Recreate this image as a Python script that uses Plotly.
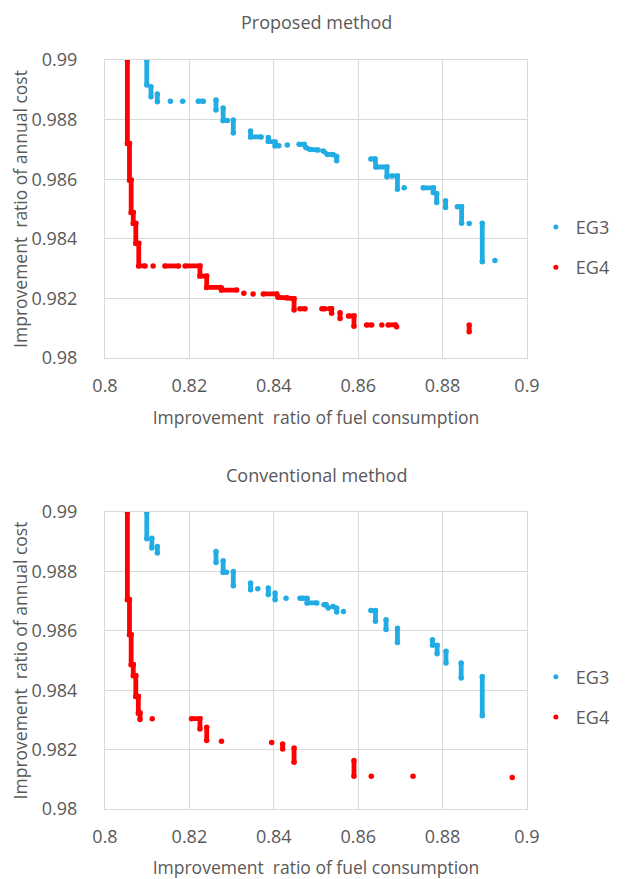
import plotly.graph_objects as go
from plotly.subplots import make_subplots

# ---- data (None separates point runs) ----
eg3_prop_x = [0.8099, 0.8099, None, 0.8109, 0.8109, None, 0.8124, 0.8124, None,
              0.8155, None, 0.8184, None, 0.8221, 0.8233, None, 0.8263, 0.8263, None,
              0.8280, 0.8280, 0.8290, None, 0.8304, 0.8304, None,
              0.8345, 0.8345, 0.8370, None,
              0.8387, 0.8387, 0.8403, 0.8403, 0.8412, None, 0.8432, None,
              0.8460, 0.8472, 0.8476, 0.8486, 0.8505, None,
              0.8517, 0.8527, 0.8540, 0.8549, 0.8549, None,
              0.8630, 0.8640, 0.8642, 0.8668, 0.8668, None,
              0.8679, 0.8693, 0.8693, None, 0.8709, None,
              0.8754, 0.8778, 0.8778, 0.8786, 0.8786, None,
              0.8807, 0.8807, None, 0.8835, 0.8845, 0.8845, None,
              0.8863, None, 0.8894, 0.8894, None, 0.8924]
eg3_prop_y = [0.99000, 0.98916, None, 0.98910, 0.98877, None, 0.98886, 0.98860, None,
              0.98862, None, 0.98862, None, 0.98862, 0.98862, None, 0.98866, 0.98832, None,
              0.98839, 0.98797, 0.98797, None, 0.98799, 0.98755, None,
              0.98762, 0.98742, 0.98742, None,
              0.98740, 0.98727, 0.98725, 0.98712, 0.98712, None, 0.98715, None,
              0.98717, 0.98717, 0.98706, 0.98700, 0.98698, None,
              0.98695, 0.98683, 0.98683, 0.98676, 0.98662, None,
              0.98668, 0.98668, 0.98641, 0.98641, 0.98608, None,
              0.98611, 0.98611, 0.98566, None, 0.98571, None,
              0.98571, 0.98571, 0.98555, 0.98552, 0.98522, None,
              0.98528, 0.98505, None, 0.98508, 0.98508, 0.98452, None,
              0.98451, None, 0.98452, 0.98323, None, 0.98327]

eg4_prop_x = [0.8053, 0.8053, 0.8058, 0.8058, 0.8062, 0.8062, 0.8067, 0.8067,
              0.8073, 0.8073, 0.8080, 0.8080, 0.8095, None,
              0.8114, None, 0.8142, 0.8174, None,
              0.8190, 0.8225, 0.8225, 0.8241, 0.8241, 0.8273, None,
              0.8276, 0.8276, 0.8312, None, 0.8329, None, 0.8351, None,
              0.8375, 0.8407, 0.8410, 0.8431, 0.8446, 0.8448, 0.8448, None,
              0.8462, 0.8474, None, 0.8514, 0.8521, None,
              0.8532, 0.8537, 0.8537, None, 0.8557, 0.8557, None,
              0.8577, 0.8590, 0.8590, None, 0.8620, 0.8632, None,
              0.8656, None, 0.8671, 0.8688, 0.8691, None, 0.8863, 0.8863]
eg4_prop_y = [0.99000, 0.98720, 0.98720, 0.98597, 0.98597, 0.98488, 0.98488, 0.98452,
              0.98452, 0.98385, 0.98385, 0.98309, 0.98309, None,
              0.98309, None, 0.98309, 0.98309, None,
              0.98309, 0.98309, 0.98275, 0.98275, 0.98237, 0.98237, None,
              0.98235, 0.98228, 0.98228, None, 0.98217, None, 0.98215, None,
              0.98215, 0.98215, 0.98204, 0.98202, 0.98199, 0.98199, 0.98161, None,
              0.98165, 0.98165, None, 0.98165, 0.98165, None,
              0.98165, 0.98165, 0.98150, None, 0.98152, 0.98133, None,
              0.98141, 0.98141, 0.98107, None, 0.98111, 0.98111, None,
              0.98111, None, 0.98111, 0.98111, 0.98105, None, 0.98111, 0.98088]

eg3_conv_x = [0.8099, 0.8099, None, 0.8111, 0.8111, None, 0.8124, 0.8124, None,
              0.8263, 0.8263, None, 0.8280, 0.8280, 0.8288, None, 0.8304, 0.8304, None,
              0.8345, 0.8345, None, 0.8362, None, 0.8387, 0.8387, None,
              0.8403, 0.8403, None, 0.8429, None, 0.8462, 0.8470, None,
              0.8479, 0.8479, 0.8502, None, 0.8519, 0.8524, 0.8529, None,
              0.8540, 0.8549, 0.8549, None, 0.8565, None,
              0.8630, 0.8641, 0.8641, None, 0.8666, 0.8666, None,
              0.8693, 0.8693, None, 0.8776, 0.8776, 0.8787, 0.8787, None,
              0.8808, 0.8808, None, 0.8844, 0.8844, None, 0.8894, 0.8894]
eg3_conv_y = [0.99000, 0.98910, None, 0.98912, 0.98879, None, 0.98884, 0.98862, None,
              0.98867, 0.98830, None, 0.98836, 0.98797, 0.98797, None, 0.98800, 0.98752, None,
              0.98761, 0.98738, None, 0.98742, None, 0.98744, 0.98722, None,
              0.98727, 0.98705, None, 0.98710, None, 0.98710, 0.98710, None,
              0.98710, 0.98694, 0.98694, None, 0.98688, 0.98688, 0.98677, None,
              0.98682, 0.98676, 0.98663, None, 0.98665, None,
              0.98668, 0.98668, 0.98632, None, 0.98637, 0.98604, None,
              0.98609, 0.98561, None, 0.98570, 0.98552, 0.98551, 0.98523, None,
              0.98531, 0.98492, None, 0.98492, 0.98441, None, 0.98446, 0.98314]

eg4_conv_x = [0.8053, 0.8053, 0.8058, 0.8058, 0.8062, 0.8062, 0.8067, 0.8067,
              0.8073, 0.8073, 0.8079, 0.8079, 0.8083, 0.8083, None,
              0.8112, None, 0.8205, 0.8225, 0.8225, None, 0.8241, 0.8241, None,
              0.8276, None, 0.8395, None, 0.8421, 0.8421, None, 0.8448, 0.8448, None,
              0.8590, 0.8590, None, 0.8631, None, 0.8730, None, 0.8965]
eg4_conv_y = [0.99000, 0.98705, 0.98705, 0.98587, 0.98587, 0.98486, 0.98486, 0.98449,
              0.98449, 0.98379, 0.98379, 0.98323, 0.98323, 0.98301, None,
              0.98304, None, 0.98304, 0.98304, 0.98269, None, 0.98275, 0.98231, None,
              0.98228, None, 0.98224, None, 0.98219, 0.98202, None, 0.98205, 0.98157, None,
              0.98163, 0.98110, None, 0.98110, None, 0.98110, None, 0.98106]

series_names = ["EG3", "EG4"]
panel_titles = ["Proposed method", "Conventional method"]
x_title = "Improvement  ratio of fuel consumption"
y_title = "Improvement  ratio of annual cost"
x_ticks = [0.8, 0.82, 0.84, 0.86, 0.88, 0.9]
y_ticks = [0.98, 0.982, 0.984, 0.986, 0.988, 0.99]

BLUE = "#21ACE4"
RED = "#FF0000"
GRAY_TXT = "#595959"
GRID = "#D9D9D9"
FONT = "Open Sans"

fig = make_subplots(rows=2, cols=1, vertical_spacing=0.2)

panels = [
    (1, [(eg3_prop_x, eg3_prop_y, BLUE), (eg4_prop_x, eg4_prop_y, RED)], "legend"),
    (2, [(eg3_conv_x, eg3_conv_y, BLUE), (eg4_conv_x, eg4_conv_y, RED)], "legend2"),
]
for row, data, leg in panels:
    for (xs, ys, col), name in zip(data, series_names):
        fig.add_trace(go.Scatter(x=xs, y=ys, mode="lines+markers",
                                 line=dict(color=col, width=4.8),
                                 marker=dict(color=col, size=5.5),
                                 connectgaps=False, showlegend=False,
                                 hoverinfo="skip"), row=row, col=1)
    for name, col in zip(series_names, [BLUE, RED]):
        fig.add_trace(go.Scatter(x=[None], y=[None], mode="markers", name=name,
                                 marker=dict(color=col, size=5),
                                 legend=leg, legendgroup=name + leg),
                      row=row, col=1)

axis_common = dict(showgrid=True, gridcolor=GRID, gridwidth=1,
                   showline=True, linecolor=GRID, linewidth=1, mirror=True,
                   zeroline=False, ticks="outside", tickcolor="rgba(0,0,0,0)",
                   automargin=False,
                   tickfont=dict(family=FONT, size=18, color=GRAY_TXT))
for r in (1, 2):
    fig.update_xaxes(range=[0.8, 0.9], tickvals=x_ticks,
                     ticktext=[f"{v:g}" for v in x_ticks], ticklen=11,
                     title=dict(text=x_title, standoff=16,
                                font=dict(family=FONT, size=17.5, color=GRAY_TXT)),
                     row=r, col=1, **axis_common)
    fig.update_yaxes(range=[0.98, 0.99], tickvals=y_ticks,
                     ticktext=[f"{v:g}" for v in y_ticks], ticklen=23,
                     title=dict(text=y_title, standoff=0,
                                font=dict(family=FONT, size=17.5, color=GRAY_TXT)),
                     row=r, col=1, **axis_common)

fig.update_layout(
    width=619, height=871,
    margin=dict(l=97, r=100, t=52, b=70, autoexpand=False),
    plot_bgcolor="white", paper_bgcolor="white",
    xaxis=dict(domain=[0, 1]), xaxis2=dict(domain=[0, 1]),
    yaxis=dict(domain=[0.6021, 1.0]), yaxis2=dict(domain=[0.0, 0.3965]),
    legend=dict(x=1.021, y=0.750, xanchor="left", yanchor="middle",
                font=dict(family=FONT, size=18, color=GRAY_TXT),
                tracegroupgap=14, traceorder="grouped", bgcolor="rgba(0,0,0,0)"),
    legend2=dict(x=1.021, y=0.1495, xanchor="left", yanchor="middle",
                 font=dict(family=FONT, size=18, color=GRAY_TXT),
                 tracegroupgap=14, traceorder="grouped", bgcolor="rgba(0,0,0,0)"),
    annotations=[
        dict(text=panel_titles[0], x=0.5, y=1.0, xref="paper", yref="paper",
             yshift=38, yanchor="middle", showarrow=False,
             font=dict(family=FONT, size=18, color=GRAY_TXT)),
        dict(text=panel_titles[1], x=0.5, y=0.3965, xref="paper", yref="paper",
             yshift=37, yanchor="middle", showarrow=False,
             font=dict(family=FONT, size=18, color=GRAY_TXT)),
    ],
)

fig.write_html("out.html")
